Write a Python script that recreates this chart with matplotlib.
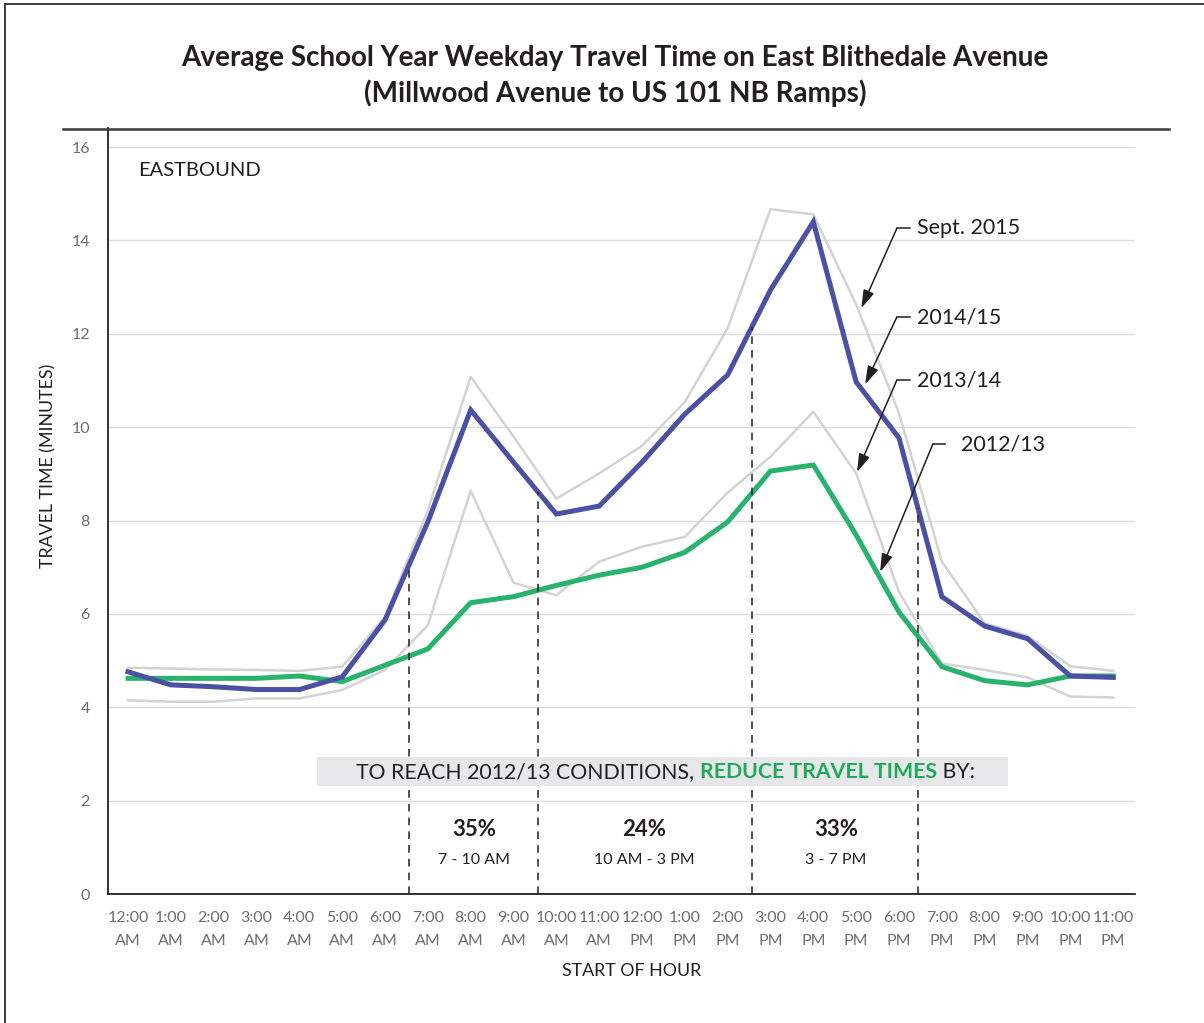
import numpy as np
import matplotlib
matplotlib.use('Agg')
import matplotlib.pyplot as plt
from matplotlib.lines import Line2D
from matplotlib.patches import Rectangle

plt.rcParams['font.family'] = ['Lato', 'DejaVu Sans']

# hour of day, 12 AM .. 11 PM
hours = ['12:00\nAM', '1:00\nAM', '2:00\nAM', '3:00\nAM', '4:00\nAM', '5:00\nAM',
         '6:00\nAM', '7:00\nAM', '8:00\nAM', '9:00\nAM', '10:00\nAM', '11:00\nAM',
         '12:00\nPM', '1:00\nPM', '2:00\nPM', '3:00\nPM', '4:00\nPM', '5:00\nPM',
         '6:00\nPM', '7:00\nPM', '8:00\nPM', '9:00\nPM', '10:00\nPM', '11:00\nPM']

# travel time in minutes
sept_2015 = [4.85, 4.83, 4.81, 4.80, 4.78, 4.87, 5.94, 8.22, 11.08, 9.80, 8.47, 9.01,
             9.60, 10.54, 12.12, 14.67, 14.56, 12.63, 10.30, 7.12, 5.80, 5.53, 4.88, 4.78]
y2014_15 = [4.76, 4.48, 4.44, 4.38, 4.38, 4.65, 5.87, 7.97, 10.37, 9.25, 8.14, 8.31,
            9.25, 10.28, 11.12, 12.94, 14.40, 10.97, 9.77, 6.37, 5.74, 5.47, 4.67, 4.64]
y2013_14 = [4.15, 4.12, 4.12, 4.19, 4.19, 4.37, 4.80, 5.76, 8.64, 6.67, 6.40, 7.12,
            7.44, 7.65, 8.60, 9.37, 10.33, 9.01, 6.47, 4.94, 4.80, 4.64, 4.23, 4.21]
y2012_13 = [4.62, 4.62, 4.62, 4.62, 4.67, 4.55, 4.90, 5.25, 6.24, 6.37, 6.61, 6.83,
            7.00, 7.32, 7.97, 9.06, 9.19, 7.69, 6.04, 4.87, 4.57, 4.48, 4.67, 4.67]

# period boundaries (hour index) and the reductions needed
period_edges = [6.56, 9.57, 14.57, 18.44]
reductions = ['35%', '24%', '33%']
periods = ['7 - 10 AM', '10 AM - 3 PM', '3 - 7 PM']
period_centers = [8.08, 12.05, 16.53]

BLUE = '#4A51A4'
GREEN = '#27B36B'
GRAY = '#D3D3D3'
DARK = '#231F20'

fig = plt.figure(figsize=(12.04, 10.23), dpi=100)
ax = fig.add_axes([108 / 1204, 1 - 894 / 1023, (1135 - 108) / 1204, (894 - 128) / 1023])

x = np.arange(len(hours))
ax.plot(x, sept_2015, color=GRAY, lw=1.8, zorder=2)
ax.plot(x, y2013_14, color=GRAY, lw=1.8, zorder=2)
ax.plot(x, y2012_13, color=GREEN, lw=3.6, zorder=3, solid_joinstyle='miter')
ax.plot(x, y2014_15, color=BLUE, lw=3.6, zorder=4, solid_joinstyle='miter')

ax.set_xlim(-0.467, 23.51)
ax.set_ylim(0, 16.41)

ax.set_yticks(range(0, 17, 2))
ax.set_xticks(x)
ax.set_xticklabels(hours, linespacing=1.75)
ax.tick_params(axis='both', length=0, colors='#6D6E71', labelsize=11.5)
ax.tick_params(axis='y', pad=13)
ax.tick_params(axis='x', pad=12.5)
for v in range(2, 17, 2):
    ax.axhline(v, color='#DCDCDC', lw=1, zorder=1)

for s in ['top', 'right']:
    ax.spines[s].set_visible(False)
ax.spines['left'].set_linewidth(1.3)
ax.spines['bottom'].set_linewidth(1.3)
ax.spines['left'].set_color(DARK)
ax.spines['bottom'].set_color(DARK)

ax.set_ylabel('TRAVEL TIME (MINUTES)', fontsize=12.8, color=DARK)
ax.set_xlabel('START OF HOUR', fontsize=12.8, color=DARK)
ax.yaxis.set_label_coords(-0.050, 0.559)
ax.xaxis.set_label_coords(0.510, -0.090)

# dashed period dividers, from the 2014/15 line down to the axis
for e in period_edges:
    top = np.interp(e, x, y2014_15)
    ax.plot([e, e], [0, top], color=DARK, lw=1.1, ls=(0, (5, 4)), zorder=5)

ax.text(0.23, 15.5, 'EASTBOUND', fontsize=14.5, color=DARK, va='center', ha='left')

# grey band with the message
ax.add_patch(Rectangle((4.41, 2.31), 16.14, 0.62, facecolor='#E6E7E8', edgecolor='none', zorder=5.5))
t1 = ax.text(5.33, 2.62, 'TO REACH 2012/13 CONDITIONS, ', fontsize=15.3, color=DARK,
             va='center', ha='left', zorder=6)
t2 = ax.annotate('REDUCE TRAVEL TIMES', xy=(1, 0), xycoords=t1, va='bottom', ha='left',
                 fontsize=15.3, color='#1FAA59', fontweight='bold', zorder=6)
ax.annotate(' BY:', xy=(1, 0), xycoords=t2, va='bottom', ha='left',
            fontsize=15.3, color=DARK, zorder=6)

for c, r, p in zip(period_centers, reductions, periods):
    ax.text(c, 1.39, r, fontsize=16, fontweight='bold', color=DARK, ha='center', va='center')
    ax.text(c, 0.73, p, fontsize=11.5, color=DARK, ha='center', va='center')

# series labels with leader arrows
labels = [('Sept. 2015', 18.42, 14.26, 18.26, 17.95, 17.12, 12.55),
          ('2014/15', 18.42, 12.36, 18.26, 17.95, 17.21, 10.92),
          ('2013/14', 18.42, 11.01, 18.26, 17.95, 17.02, 9.04),
          ('2012/13', 19.45, 9.64, 19.07, 18.79, 17.56, 6.90)]
for name, tx, ty, k0, k1, ax_, ay_ in labels:
    ax.text(tx, ty, name, fontsize=15.5, color=DARK, va='center', ha='left')
    ax.plot([k0, k1], [ty, ty], color=DARK, lw=1.1, zorder=6)
    ax.annotate('', xy=(ax_, ay_), xytext=(k1, ty),
                arrowprops=dict(arrowstyle='-|>,head_length=0.55,head_width=0.17', color=DARK, lw=1.1,
                                mutation_scale=20, shrinkA=0, shrinkB=0), zorder=6)

# title and page furniture
fig.text(615 / 1204, 1 - 58 / 1023, 'Average School Year Weekday Travel Time on East Blithedale Avenue',
         fontsize=20.1, fontweight='bold', color=DARK, ha='center', va='center')
fig.text(615 / 1204, 1 - 93 / 1023, '(Millwood Avenue to US 101 NB Ramps)',
         fontsize=20.1, fontweight='bold', color=DARK, ha='center', va='center')
fig.add_artist(Line2D([63 / 1204, 1169 / 1204], [1 - 129 / 1023] * 2, color='#3A3A3A', lw=1.8))
fig.add_artist(Line2D([5 / 1204, 5 / 1204], [0, 1 - 4 / 1023], color=DARK, lw=1.2))
fig.add_artist(Line2D([5 / 1204, 1], [1 - 4 / 1023] * 2, color=DARK, lw=1.2))

fig.savefig('out.png', dpi=100)
